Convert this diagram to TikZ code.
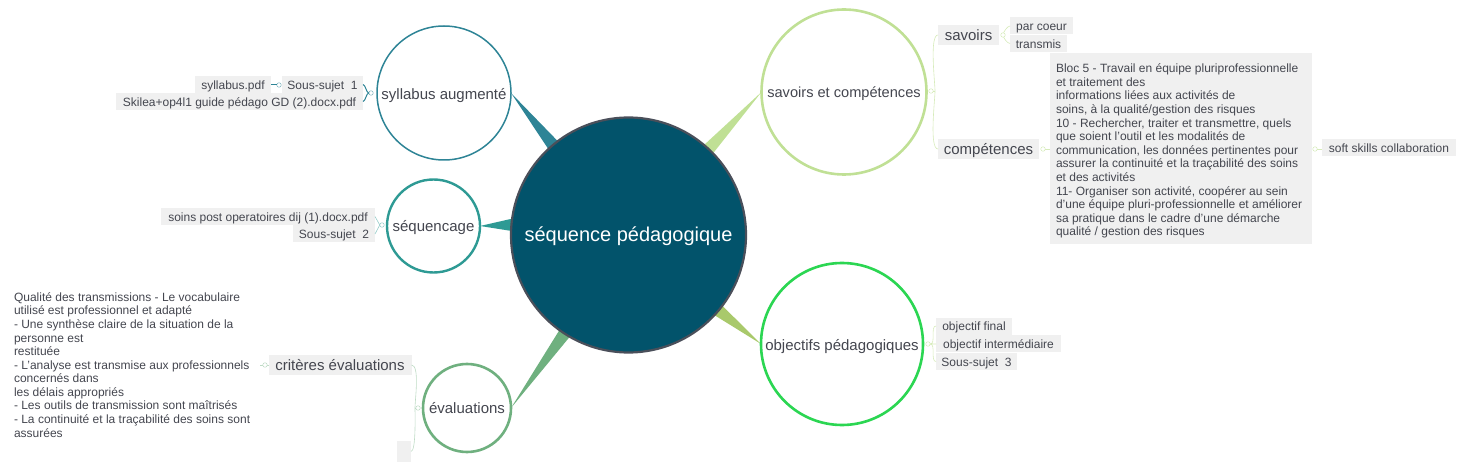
\documentclass[tikz,border=0pt]{standalone}
\usepackage{fontspec}
\setmainfont{Liberation Sans}
\usetikzlibrary{backgrounds}
\definecolor{txt}{HTML}{44464F}
\definecolor{boxfill}{HTML}{F0F0F0}
\definecolor{cmain}{HTML}{02536B}
\definecolor{cmainb}{HTML}{4A4F5A}
\definecolor{csyl}{HTML}{2E8496}
\definecolor{cseq}{HTML}{2E9A94}
\definecolor{ceva}{HTML}{6FB07F}
\definecolor{csav}{HTML}{C0E095}
\definecolor{cobj}{HTML}{2BD652}
\definecolor{cobjt}{HTML}{A9C96B}
\tikzset{
 x=1pt,y=-1pt,
 roundnode/.style={circle,draw=#1,fill=white,inner sep=0pt,outer sep=0pt,text=txt,font=\fontsize{15}{18}\selectfont},
 topicbox/.style={fill=boxfill,inner sep=0pt,outer sep=0pt,text=txt,font=\fontsize{12}{13.5}\selectfont},
 bigbox/.style={topicbox,font=\fontsize{15}{18}\selectfont},
 para/.style={inner sep=0pt,outer sep=0pt,text=txt,font=\fontsize{12}{13.58}\selectfont,align=left,anchor=north west},
 knob/.style={circle,draw=#1,fill=white,line width=0.5pt,inner sep=0pt,outer sep=0pt,minimum size=4.5pt},
 taper/.style={fill=#1,draw=none},
 link/.style={draw=#1,line width=0.6pt},
}
% #1 = distance of the baseline below the centre of the node
\newcommand{\lowered}[2][4.6]{\raisebox{0pt}[\dimexpr 8pt+#1pt\relax][\dimexpr 8pt-#1pt\relax]{#2}}
\newcommand{\topic}[6][topicbox]{\node[#1,minimum width=#4pt,minimum height=#5pt] (#2) at (#3) {\lowered{#6}};}
\newcommand{\bigtopic}[5]{\node[bigbox,minimum width=#3pt,minimum height=#4pt] (#1) at (#2) {\lowered[5.5]{#5}};}
\begin{document}
\begin{tikzpicture}
\useasboundingbox (0,0) rectangle (1464,470);
% main circles
\node[roundnode=cmainb,fill=cmain,line width=2.2pt,minimum size=235pt,text=white,font=\fontsize{20}{24}\selectfont] (main) at (628.5,235) {\lowered[6.5]{séquence pédagogique}};
\node[roundnode=csyl,line width=1.5pt,minimum size=134pt] (syl) at (444,93) {\lowered[6.2]{syllabus augmenté}};
\node[roundnode=cseq,line width=2.4pt,minimum size=93pt] (seq) at (433.5,226) {\lowered[5.7]{séquencage}};
\node[roundnode=ceva,line width=2.6pt,minimum size=88pt] (eva) at (467,408) {\lowered[5.3]{évaluations}};
\node[roundnode=csav,line width=2.6pt,minimum size=165pt] (sav) at (844,92) {\lowered[5.3]{\fontsize{14.6}{18}\selectfont savoirs et compétences}};
\node[roundnode=cobj,line width=2.6pt,minimum size=162pt] (obj) at (842,344) {\lowered[6]{objectifs pédagogiques}};
\begin{scope}[on background layer]
\fill[taper=csyl] (syl.east) -- (main.127) -- (main.133) -- cycle;
\fill[taper=cseq] (seq.east) -- (main.172.5) -- (main.178.5) -- cycle;
\fill[taper=ceva] (eva.east) -- (main.234) -- (main.240) -- cycle;
\fill[taper=csav] (sav.west) -- (main.44.5) -- (main.50.5) -- cycle;
\fill[taper=cobjt] (obj.west) -- (main.-37) -- (main.-43) -- cycle;
\end{scope}
% syllabus branch
\topic{s1}{322.5,84.5}{81}{17}{Sous-sujet\ \ 1}
\topic{s1a}{233,84.5}{76}{17}{syllabus.pdf}
\topic{s1b}{239.5,101.5}{247}{17}{Skilea+op4l1 guide pédago GD (2).docx.pdf}
\node[knob=csyl!60] (k1) at (371,93) {};
\node[knob=csyl!60] (k1a) at (279,85) {};
\draw[link=csyl,line width=1pt] (s1.east) to[out=0,in=180,looseness=0.6] (k1.west) to[out=180,in=0,looseness=0.6] (s1b.east);
\draw[link=csyl,line width=1pt] (k1a.west) -- (k1a.west -| s1a.east);
% sequencage branch
\topic{s2a}{268,216.5}{214}{17}{soins post operatoires dij (1).docx.pdf}
\topic{s2}{334,234}{82}{17}{Sous-sujet\ \ 2}
\node[knob=cseq!50] (k2) at (382,225) {};
\draw[link=cseq!50] (s2a.east) -- (k2.west) -- (s2.east);
% evaluation branch
\bigtopic{crit}{340,365}{143}{20}{critères évaluations}
\node[fill=boxfill,minimum width=14pt,minimum height=21pt,inner sep=0pt,outer sep=0pt] (empty) at (404,451.5) {};
\coordinate (j3) at (415,408);
\coordinate (l3) at (260,365);
\draw[link=ceva!45] (crit.east) to[out=0,in=90,looseness=0.5] (j3) to[out=-90,in=0,looseness=0.3] (empty.east);
\draw[link=ceva!45] (l3) -- (crit.west);
\node[knob=ceva!45] (k3) at (418,408) {};
\node[knob=ceva!45] (k3a) at (265,365) {};
\draw[link=ceva!45] (k3.west) -- (j3);
\node[para] (critxt) at (14,292.5) {Qualité des transmissions - Le vocabulaire\\utilisé est professionnel et adapté\\- Une synthèse claire de la situation de la\\personne est\\restituée\\- L'analyse est transmise aux professionnels\\concernés dans\\les délais appropriés\\- Les outils de transmission sont maîtrisés\\- La continuité et la traçabilité des soins sont\\assurées};
% savoirs branch
\bigtopic{sv}{968.5,35}{61}{20}{savoirs}
\bigtopic{cp}{988.5,149}{101}{20}{compétences}
\topic{pc}{1041.5,26}{63}{17}{par coeur}
\topic{tr}{1038.5,43.5}{57}{17}{transmis}
\coordinate (j4) at (935,91);
\draw[link=csav!65] (sv.west) to[out=180,in=90,looseness=0.4] (j4) to[out=-90,in=180,looseness=0.4] (cp.west);
\draw[link=csav!65] (pc.west) to[out=180,in=90,looseness=0.6] (1003,35) to[out=-90,in=180,looseness=0.6] (tr.west);
\node[knob=csav!65] (k4) at (931,91) {};
\node[knob=csav!65] (k5) at (1003,35) {};
\node[knob=csav!65] (k6) at (1043,149) {};
\node[knob=csav!65] (k7) at (1315,149) {};
\draw[link=csav!65] (k4.east) -- (j4);
\node[fill=boxfill,minimum width=262pt,minimum height=191pt,anchor=north west,inner sep=0pt,outer sep=0pt] (bk) at (1050,53) {};
\node[para] (bloc) at (1056,64) {Bloc 5 - Travail en équipe pluriprofessionnelle\\et traitement des\\informations liées aux activités de\\soins, à la qualité/gestion des risques\\10 - Rechercher, traiter et transmettre, quels\\que soient l'outil et les modalités de\\communication, les données pertinentes pour\\assurer la continuité et la traçabilité des soins\\et des activités\\11- Organiser son activité, coopérer au sein\\d'une équipe pluri-professionnelle et améliorer\\sa pratique dans le cadre d'une démarche\\qualité / gestion des risques};
\draw[link=csav!65] (k6.east) -- (k6.east -| bk.west);
\topic{sk}{1389,148}{134}{17}{soft skills collaboration}
\draw[link=csav!65] (k7.east) -- (k7.east -| sk.west);
% objectifs branch
\topic{o1}{974,326}{76}{17}{objectif final}
\topic{o2}{998.5,343.5}{125}{17}{objectif intermédiaire}
\topic{o3}{976.5,361.5}{81}{17}{Sous-sujet\ \ 3}
\node[knob=csav!65] (k8) at (928,344) {};
\draw[link=csav!65] (o1.west) to[out=180,in=0,looseness=0.8] (k8.east) -- (k8.east -| o2.west);
\draw[link=csav!65] (o3.west) to[out=180,in=0,looseness=0.8] (k8.east);
\end{tikzpicture}
\end{document}
